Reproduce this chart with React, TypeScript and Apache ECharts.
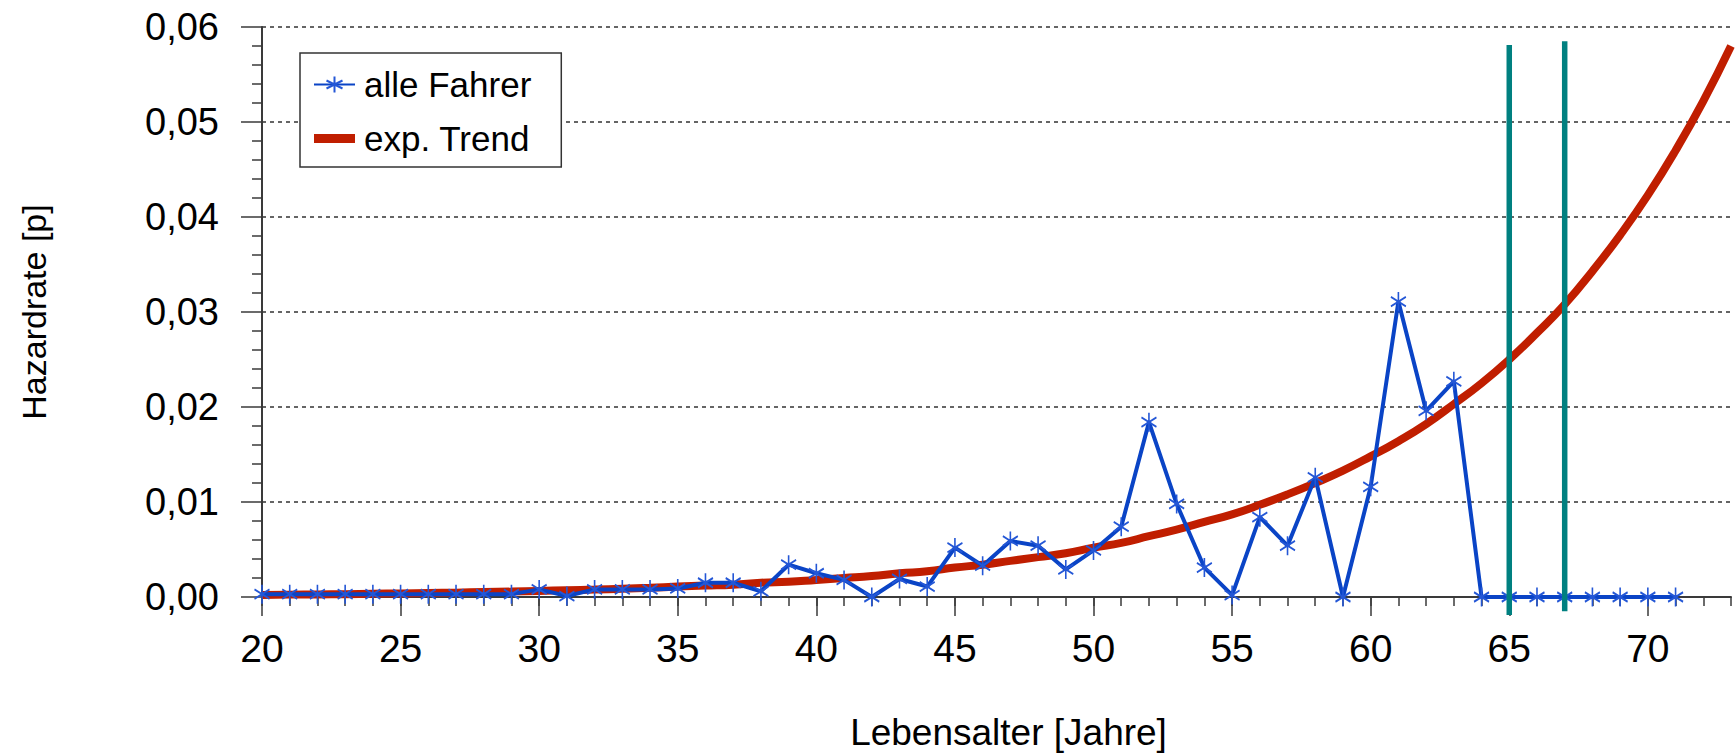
import React, { useEffect, useRef } from "react";
import * as echarts from "echarts";

const ages = [20, 21, 22, 23, 24, 25, 26, 27, 28, 29, 30, 31, 32, 33, 34, 35, 36, 37, 38, 39, 40, 41, 42, 43, 44, 45, 46, 47, 48, 49, 50, 51, 52, 53, 54, 55, 56, 57, 58, 59, 60, 61, 62, 63, 64, 65, 66, 67, 68, 69, 70, 71];
const hazardAll = [0.0003, 0.0003, 0.0003, 0.0003, 0.0003, 0.0003, 0.0003, 0.0003, 0.0003, 0.0003, 0.0008, 0.0001, 0.0008, 0.0008, 0.0008, 0.0009, 0.0015, 0.0015, 0.0006, 0.0034, 0.0025, 0.0018, 0.0, 0.0019, 0.0011, 0.0052, 0.0033, 0.0059, 0.0054, 0.0029, 0.0049, 0.0074, 0.0184, 0.0098, 0.0031, 0.0002, 0.0084, 0.0054, 0.0126, 0.0, 0.0116, 0.0311, 0.0196, 0.0227, 0.0, 0.0, 0.0, 0.0, 0.0, 0.0, 0.0, 0.0];

const trendAges = [20, 21, 22, 23, 24, 25, 26, 27, 28, 29, 30, 31, 32, 33, 34, 35, 36, 37, 38, 39, 40, 41, 42, 43, 44, 45, 46, 47, 48, 49, 50, 51, 52, 53, 54, 55, 56, 57, 58, 59, 60, 61, 62, 63, 64, 65, 66, 67, 68, 69, 70, 71, 72, 73];
const trendValues = [0.00022, 0.00025, 0.00027, 0.0003, 0.00034, 0.00038, 0.00042, 0.00046, 0.00052, 0.00057, 0.00064, 0.00071, 0.00078, 0.00087, 0.00097, 0.0011, 0.0012, 0.0013, 0.0015, 0.0016, 0.0018, 0.002, 0.0022, 0.0025, 0.0027, 0.0031, 0.0034, 0.0038, 0.0042, 0.0046, 0.0052, 0.0057, 0.0064, 0.0071, 0.0079, 0.0087, 0.0097, 0.0108, 0.012, 0.0133, 0.0148, 0.0164, 0.0182, 0.0203, 0.0225, 0.025, 0.0278, 0.0308, 0.0343, 0.0381, 0.0423, 0.047, 0.0522, 0.058];

const markerAges = [65, 67];
const markerTops = [0.0581, 0.0585];
const markerBottoms = [-0.0019, -0.0015];

const xMajorLabels = [20, 25, 30, 35, 40, 45, 50, 55, 60, 65, 70];

const FONT = "'Liberation Sans', Arial, sans-serif";
const BLUE = "#0a44c6";
const BLUE_MARK = "#2457d6";
const RED = "#c01e00";
const TEAL = "#008080";
const AXIS = "#3a3a3a";

export default function App() {
  const ref = useRef<HTMLDivElement>(null);
  useEffect(() => {
    if (!ref.current) return;
    const chart = echarts.init(ref.current, undefined, { renderer: "svg" });
    const asterisk = "path://M0,-8 L0,8 M-7,-4 L7,4 M-7,4 L7,-4";
    const markerSeries = markerAges.map((a, i) => ({
      type: "line",
      name: "marker" + a,
      data: [
        [a, markerBottoms[i]],
        [a, markerTops[i]],
      ],
      symbol: "none",
      clip: false,
      silent: true,
      lineStyle: { color: TEAL, width: 5.5 },
      z: 5,
    }));
    chart.setOption({
      animation: false,
      backgroundColor: "#ffffff",
      textStyle: { fontFamily: FONT, color: "#000" },
      grid: { left: 262, right: 5, top: 27, bottom: 151.5, containLabel: false },
      legend: {
        data: [
          { name: "alle Fahrer" },
          { name: "exp. Trend", icon: "path://M0,0 L41,0 L41,9 L0,9 Z" },
        ],
        orient: "vertical",
        left: 300,
        top: 53,
        padding: [14, 30, 11, 13],
        itemWidth: 41,
        itemHeight: 20,
        itemGap: 19,
        symbolKeepAspect: true,
        backgroundColor: "#fff",
        borderColor: "#333",
        borderWidth: 1.5,
        borderRadius: 0,
        textStyle: { fontSize: 35, fontFamily: FONT, color: "#000", padding: [0, 0, 0, 4] },
      },
      xAxis: [
        {
          type: "value",
          min: 20,
          max: 73,
          interval: 1,
          axisLine: { show: true, onZero: false, lineStyle: { color: AXIS, width: 2 } },
          axisTick: { show: true, length: 9, lineStyle: { color: AXIS, width: 1.5 } },
          axisLabel: { show: false },
          splitLine: { show: false },
        },
        {
          type: "value",
          min: 20,
          max: 73,
          interval: 5,
          position: "bottom",
          name: "Lebensalter [Jahre]",
          nameLocation: "middle",
          nameGap: 117,
          nameTextStyle: { fontSize: 37, fontFamily: FONT, color: "#000", padding: [0, 0, 0, 24] },
          axisLine: { show: false },
          axisTick: { show: true, length: 19, customValues: xMajorLabels, lineStyle: { color: AXIS, width: 1.5 } },
          axisLabel: {
            customValues: xMajorLabels,
            fontSize: 39,
            fontFamily: FONT,
            color: "#000",
            margin: 32,
            formatter: (v: number) => (v % 5 === 0 && v <= 70 ? String(v) : ""),
          },
          splitLine: { show: false },
        },
      ],
      yAxis: {
        type: "value",
        min: 0,
        max: 0.06,
        interval: 0.01,
        name: "Hazardrate [p]",
        nameLocation: "middle",
        nameGap: 211,
        nameTextStyle: { fontSize: 34, fontFamily: FONT, color: "#000" },
        axisLine: { show: true, lineStyle: { color: AXIS, width: 2 } },
        axisTick: { show: true, length: 21, lineStyle: { color: AXIS, width: 1.5 } },
        minorTick: { show: true, splitNumber: 5, length: 10, lineStyle: { color: AXIS, width: 1.5 } },
        axisLabel: {
          fontSize: 38,
          fontFamily: FONT,
          color: "#000",
          margin: 43,
          formatter: (v: number) => v.toFixed(2).replace(".", ","),
        },
        splitLine: { show: true, lineStyle: { color: "#333", width: 1.5, type: [4, 4] } },
      },
      series: [
        {
          type: "line",
          name: "exp. Trend",
          data: trendAges.map((a, i) => [a, trendValues[i]]),
          smooth: true,
          symbol: "none",
          lineStyle: { color: RED, width: 8 },
          itemStyle: { color: RED },
          z: 2,
        },
        {
          type: "line",
          name: "alle Fahrer",
          data: ages.map((a, i) => [a, hazardAll[i]]),
          symbol: asterisk,
          symbolSize: [15, 19],
          lineStyle: { color: BLUE, width: 4 },
          itemStyle: { color: BLUE_MARK, borderColor: BLUE_MARK, borderWidth: 1.8 },
          z: 3,
        },
        ...markerSeries,
      ],
    });
    return () => chart.dispose();
  }, []);
  return (
    <div
      ref={ref}
      style={{ position: "absolute", left: 0, top: 0, width: 1736, height: 756, background: "#fff" }}
    />
  );
}
